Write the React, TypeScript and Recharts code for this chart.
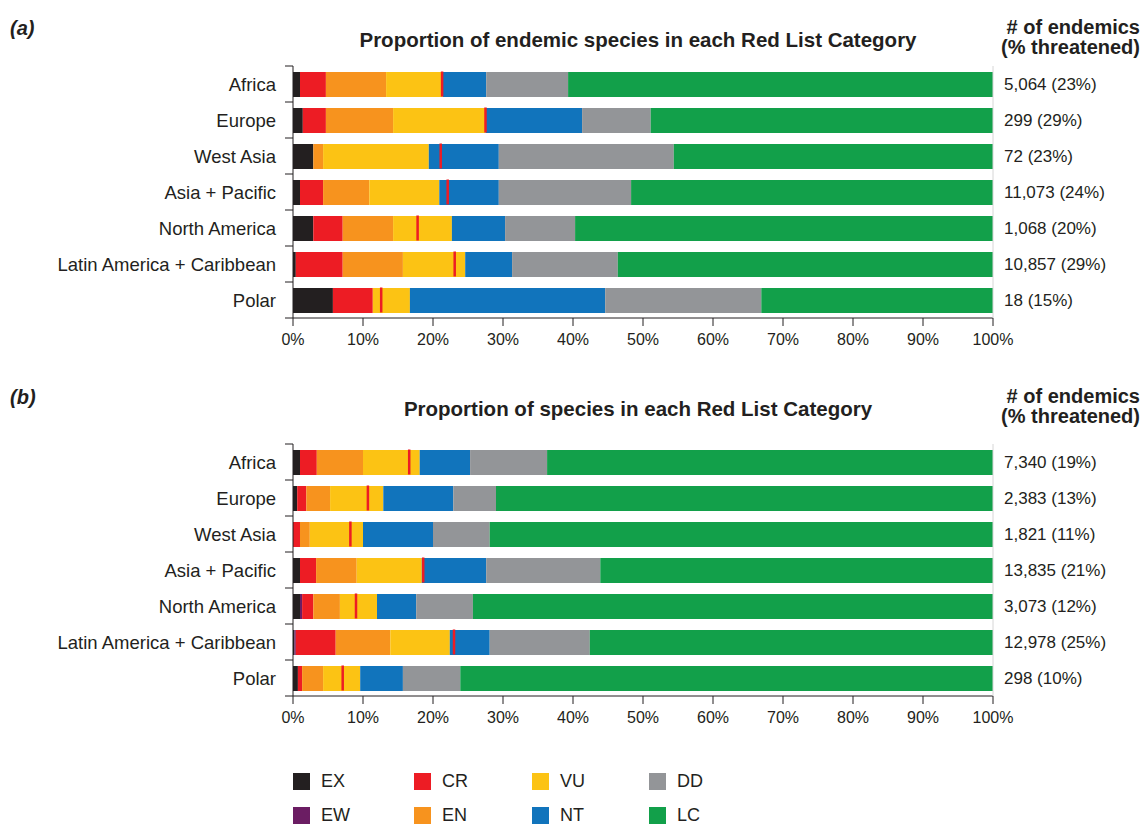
import { ComposedChart, Bar, Scatter, XAxis, YAxis } from "recharts";

const regions = [
  "Africa",
  "Europe",
  "West Asia",
  "Asia + Pacific",
  "North America",
  "Latin America + Caribbean",
  "Polar",
];

// (a) endemic species, share (%) of each Red List category
const endemicEX = [1.0, 1.4, 2.9, 1.0, 2.9, 0.4, 5.7];
const endemicEW = [0, 0, 0, 0, 0, 0, 0];
const endemicCR = [3.7, 3.3, 0, 3.3, 4.2, 6.7, 5.7];
const endemicEN = [8.6, 9.6, 1.4, 6.6, 7.2, 8.6, 0];
const endemicVU = [8.1, 13.2, 15.1, 10.0, 8.4, 8.9, 5.3];
const endemicNT = [6.2, 13.8, 10.0, 8.5, 7.6, 6.7, 27.9];
const endemicDD = [11.7, 9.8, 25.0, 18.9, 10.0, 15.1, 22.3];
const endemicLC = [60.7, 48.9, 45.6, 51.7, 59.7, 53.6, 33.1];
const endemicMarker = [21.3, 27.5, 21.1, 22.1, 17.8, 23.1, 12.6];
const endemicCounts = [
  "5,064 (23%)",
  "299 (29%)",
  "72 (23%)",
  "11,073 (24%)",
  "1,068 (20%)",
  "10,857 (29%)",
  "18 (15%)",
];

// (b) all species
const allEX = [1.0, 0.6, 0, 1.0, 1.0, 0.2, 0.7];
const allEW = [0, 0, 0, 0, 0.3, 0.2, 0];
const allCR = [2.4, 1.3, 1.0, 2.3, 1.6, 5.7, 0.6];
const allEN = [6.6, 3.4, 1.4, 5.8, 3.8, 7.8, 3.0];
const allVU = [8.1, 7.6, 7.6, 9.3, 5.3, 8.5, 5.3];
const allNT = [7.2, 10.0, 10.0, 9.2, 5.6, 5.7, 6.1];
const allDD = [11.0, 6.1, 8.1, 16.3, 8.1, 14.3, 8.2];
const allLC = [63.7, 71.0, 71.9, 56.1, 74.3, 57.6, 76.1];
const allMarker = [16.6, 10.7, 8.2, 18.6, 9.0, 23.0, 7.1];
const allCounts = [
  "7,340 (19%)",
  "2,383 (13%)",
  "1,821 (11%)",
  "13,835 (21%)",
  "3,073 (12%)",
  "12,978 (25%)",
  "298 (10%)",
];

const xTicks = [0, 10, 20, 30, 40, 50, 60, 70, 80, 90, 100];
const categories = ["EX", "EW", "CR", "EN", "VU", "NT", "DD", "LC"];

const C: Record<string, string> = {
  EX: "#231f20",
  EW: "#6b1d63",
  CR: "#ed1c24",
  EN: "#f7931e",
  VU: "#fcc314",
  NT: "#1174bc",
  DD: "#939598",
  LC: "#12a04a",
};

const ink = "#231f20";
const font = "'Liberation Sans', Arial, Helvetica, sans-serif";

const buildRows = (
  ex: number[], ew: number[], cr: number[], en: number[], vu: number[],
  nt: number[], dd: number[], lc: number[], marker: number[], counts: string[]
) =>
  regions.map((region, i) => ({
    region,
    count: counts[i],
    EX: ex[i],
    EW: ew[i],
    CR: cr[i],
    EN: en[i],
    VU: vu[i],
    NT: nt[i],
    DD: dd[i],
    LC: lc[i],
    marker: marker[i],
  }));

const endemicRows = buildRows(
  endemicEX, endemicEW, endemicCR, endemicEN, endemicVU,
  endemicNT, endemicDD, endemicLC, endemicMarker, endemicCounts
);
const allRows = buildRows(
  allEX, allEW, allCR, allEN, allVU, allNT, allDD, allLC, allMarker, allCounts
);

// left labels + tick marks sitting on the band edges
function RegionTick(props: any) {
  const { x, y, payload, index } = props;
  const ax = x + 17;
  return (
    <g>
      <text x={x} y={y} dy="0.355em" textAnchor="end" fontSize={18.5} fill={ink}>
        {payload.value}
      </text>
      <line x1={ax - 8} x2={ax} y1={y + 18} y2={y + 18} stroke={ink} />
      {index === 0 && <line x1={ax - 8} x2={ax} y1={y - 18} y2={y - 18} stroke={ink} />}
    </g>
  );
}

const MarkerShape = (p: any) => (
  <rect x={p.cx - 1.25} y={p.cy - 12.5} width={2.5} height={25} fill={C.CR} />
);

function Panel({ rows }: { rows: any[] }) {
  return (
    <ComposedChart
      layout="vertical"
      width={1146}
      height={360}
      data={rows}
      margin={{ top: 66, right: 0, bottom: 12, left: 0 }}
    >
      <XAxis
        type="number"
        domain={[0, 100]}
        ticks={xTicks}
        interval={0}
        tickFormatter={(v: number) => v + "%"}
        tick={{ fontSize: 16, fill: ink }}
        stroke={ink}
        tickSize={8}
        tickMargin={8}
        height={30}
      />
      <XAxis
        xAxisId="top"
        orientation="top"
        type="number"
        domain={[0, 100]}
        height={0}
        tick={false}
        tickLine={false}
        stroke="#a7a9ac"
      />
      <YAxis
        yAxisId="left"
        type="category"
        dataKey="region"
        width={293}
        tickSize={0}
        tickMargin={17}
        tickLine={false}
        tick={<RegionTick />}
        stroke={ink}
        interval={0}
      />
      <YAxis
        yAxisId="right"
        orientation="right"
        type="category"
        dataKey="count"
        width={153}
        tickSize={0}
        tickMargin={11}
        tickLine={false}
        tick={{ fontSize: 17, fill: ink, textAnchor: "start" }}
        stroke="#d6d6d6"
        interval={0}
      />
      {categories.map((k) => (
        <Bar
          key={k}
          dataKey={k}
          stackId="s"
          yAxisId="left"
          fill={C[k]}
          barSize={25}
          isAnimationActive={false}
        />
      ))}
      <Scatter
        dataKey="marker"
        yAxisId="left"
        shape={MarkerShape}
        isAnimationActive={false}
      />
    </ComposedChart>
  );
}

const abs = (style: any) => ({ position: "absolute" as const, ...style });

function Header({ top, tag, title }: { top: number; tag: string; title: string }) {
  return (
    <>
      <div style={abs({ left: 10, top: top, fontSize: 20, fontWeight: "bold", fontStyle: "italic", lineHeight: "20px" })}>
        {tag}
      </div>
      <div style={abs({ left: 288, width: 700, top: top + 12, textAlign: "center", fontSize: 20.5, fontWeight: "bold", lineHeight: "20px" })}>
        {title}
      </div>
      <div style={abs({ right: 6, top: top - 1, textAlign: "right", fontSize: 20, fontWeight: "bold", lineHeight: "20px" })}>
        # of endemics
        <br />
        (% threatened)
      </div>
    </>
  );
}

const legendRows = [
  ["EX", "CR", "VU", "DD"],
  ["EW", "EN", "NT", "LC"],
];
const legendCols = [293, 414, 532, 649];

export default function App() {
  return (
    <div
      style={{
        position: "absolute",
        left: 0,
        top: 0,
        width: 1146,
        height: 825,
        background: "#fff",
        fontFamily: font,
        color: ink,
      }}
    >
      <Header top={18} tag="(a)" title="Proportion of endemic species in each Red List Category" />
      <div style={abs({ left: 0, top: 0 })}>
        <Panel rows={endemicRows} />
      </div>

      <Header top={387} tag="(b)" title="Proportion of species in each Red List Category" />
      <div style={abs({ left: 0, top: 378 })}>
        <Panel rows={allRows} />
      </div>

      {legendRows.map((row, r) =>
        row.map((k, c) => (
          <div key={k} style={abs({ left: legendCols[c], top: 773 + r * 34, display: "flex", alignItems: "center" })}>
            <div style={{ width: 17, height: 17, background: C[k] }} />
            <span style={{ marginLeft: 11, fontSize: 18, lineHeight: "17px" }}>{k}</span>
          </div>
        ))
      )}
    </div>
  );
}
